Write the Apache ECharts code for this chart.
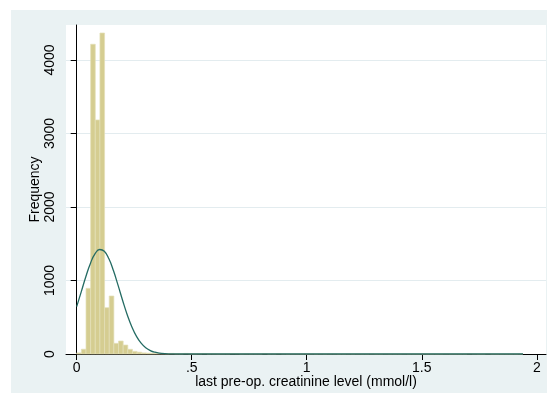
<!DOCTYPE html>
<html>
<head>
<meta charset="UTF-8">
<title>Histogram</title>
<style>
  body { margin: 0; background: #fff; }
  #chart { position: absolute; left: 11px; top: 10px; width: 536px; height: 383px; }
</style>
</head>
<body>
<div id="chart"></div>
<script src="https://cdn.jsdelivr.net/npm/echarts@6/dist/echarts.min.js"></script>
<script>
// histogram bins: first bin starts at binStart, each binWidth wide
var binStart = 0;
var binWidth = 0.0202;
var counts = [
  15, 65, 893, 4214, 3184, 4367, 630, 789, 145, 177,
  122, 64, 36, 25, 15, 12, 10, 8, 6, 5,
  8, 4, 3, 8, 3, 2, 3, 6, 2, 2,
  1, 2, 2, 6, 5, 1, 2, 1, 1, 1,
  5, 1, 1, 4, 1, 0, 1, 1, 0, 1,
  1, 0, 1, 0, 1, 1, 0, 0, 1, 0,
  1, 0, 0, 1, 0, 0, 1, 0, 0, 0,
  1, 0, 0, 0, 1, 0, 0, 0, 0, 1,
  0, 0, 0, 0, 3, 1, 0, 0, 3, 0,
  0, 0, 0, 0, 0, 1
];

// normal density overlay as [x, frequency]
var curveX = [0, 0.02, 0.04, 0.06, 0.08, 0.10, 0.12, 0.14, 0.16, 0.18,
  0.20, 0.22, 0.24, 0.26, 0.28, 0.30, 0.32, 0.34, 0.36, 0.40, 0.45, 1.94];
var curveY = [645, 849, 1055, 1236, 1365, 1422, 1397, 1295, 1132, 933,
  725, 531, 367, 239, 147, 85, 47, 24, 12, 2, 0, 0];

var xTicks = [0, 0.5, 1, 1.5, 2];
var xTickLabels = ['0', '.5', '1', '1.5', '2'];
var yTicks = [0, 1000, 2000, 3000, 4000];

var bars = counts.map(function (c, i) {
  return [binStart + i * binWidth, binStart + (i + 1) * binWidth, c];
});
var curve = curveX.map(function (x, i) { return [x, curveY[i]]; });

var myChart = echarts.init(document.getElementById('chart'));
var font = 'Liberation Sans, Arial, sans-serif';

var option = {
  backgroundColor: '#eaf2f3',
  animation: false,
  grid: {
    left: 55, top: 15, right: 1, bottom: 39,
    outerBoundsMode: 'none',
    containLabel: false,
    show: true, backgroundColor: '#fff', borderWidth: 0
  },
  xAxis: {
    type: 'value',
    min: -0.0465,
    max: 2.04,
    name: 'last pre-op. creatinine level (mmol/l)',
    nameLocation: 'middle',
    nameGap: 21,
    nameMoveOverlap: false,
    nameTextStyle: { color: '#000', fontSize: 14, fontFamily: font },
    axisLine: { onZero: false, lineStyle: { color: '#000', width: 1 } },
    axisTick: { show: true, length: 6, customValues: xTicks, lineStyle: { color: '#000' } },
    axisLabel: {
      customValues: xTicks,
      margin: 7,
      color: '#000', fontSize: 14, fontFamily: font,
      formatter: function (v) {
        var i = xTicks.indexOf(v);
        return i >= 0 ? xTickLabels[i] : '';
      }
    },
    splitLine: { show: false }
  },
  yAxis: {
    type: 'value',
    min: 0,
    max: 4476,
    name: 'Frequency',
    nameLocation: 'middle',
    nameGap: 24,
    nameMoveOverlap: false,
    nameTextStyle: { color: '#000', fontSize: 14, fontFamily: font },
    axisLine: { show: true, lineStyle: { color: '#000', width: 1 } },
    axisTick: { show: true, length: 6, customValues: yTicks, lineStyle: { color: '#000' } },
    axisLabel: {
      customValues: yTicks,
      rotate: 90,
      margin: 9,
      color: '#000', fontSize: 14, fontFamily: font,
      formatter: function (v) { return String(v); }
    },
    splitLine: { show: true, lineStyle: { color: '#e3ecef', width: 1 } }
  },
  series: [
    {
      type: 'custom',
      data: bars,
      renderItem: function (params, api) {
        var p0 = api.coord([api.value(0), api.value(2)]);
        var p1 = api.coord([api.value(1), 0]);
        return {
          type: 'rect',
          shape: { x: p0[0], y: p0[1], width: p1[0] - p0[0], height: p1[1] - p0[1] },
          style: { fill: '#d5cd91', stroke: '#e4dfb8', lineWidth: 0.7 }
        };
      },
      encode: { x: [0, 1], y: 2 },
      z: 2
    },
    {
      type: 'line',
      data: curve,
      smooth: true,
      showSymbol: false,
      lineStyle: { color: '#246b63', width: 1.3 },
      z: 3
    }
  ]
};
myChart.setOption(option);
</script>
</body>
</html>
